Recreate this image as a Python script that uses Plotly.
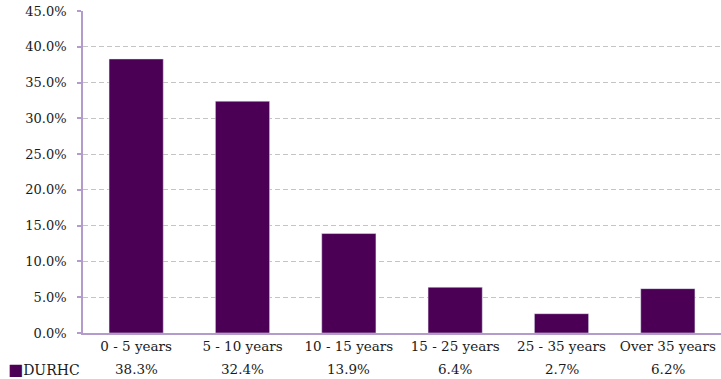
import plotly.graph_objects as go

categories = ["0 - 5 years", "5 - 10 years", "10 - 15 years", "15 - 25 years", "25 - 35 years", "Over 35 years"]
values = [38.3, 32.4, 13.9, 6.4, 2.7, 6.2]
series_name = "DURHC"
y_ticks = [0, 5, 10, 15, 20, 25, 30, 35, 40, 45]

BAR = "#4b0055"
AXIS = "#b39ccc"
FONT = "DejaVu Serif"
TXT = "#1a1a1a"

fig = go.Figure(go.Bar(x=categories, y=values, marker_color=BAR, width=0.51, showlegend=False))

fig.update_layout(
    width=721, height=379,
    margin=dict(l=83, r=0, t=11, b=46),
    paper_bgcolor="white", plot_bgcolor="white",
    font=dict(family=FONT, size=13.5, color=TXT),
    bargap=0.49,
)
fig.update_yaxes(
    range=[0, 45], tickvals=y_ticks, ticktext=[f"{v:.1f}%" for v in y_ticks],
    showgrid=True, gridcolor="#c4c4c4", griddash="5px,3px", gridwidth=1,
    showline=True, linecolor=AXIS, linewidth=1.5,
    ticks="outside", ticklen=4, tickcolor=AXIS, tickwidth=1.5,
    zeroline=False, ticklabelstandoff=8,
    tickfont=dict(family=FONT, size=13, color=TXT),
)
fig.update_xaxes(
    showline=True, linecolor=AXIS, linewidth=1.5, ticks="",
    tickfont=dict(family=FONT, size=13.5, color=TXT),
)

for c, v in zip(categories, values):
    fig.add_annotation(x=c, y=-0.113, xref="x", yref="paper", text=f"{v:.1f}%",
                       showarrow=False, font=dict(family=FONT, size=13.5, color=TXT),
                       xanchor="center", yanchor="middle")

fig.add_annotation(x=-0.121, y=-0.113, xref="paper", yref="paper",
                   text=f'<span style="color:{BAR};font-size:16px">■</span>{series_name}',
                   showarrow=False, font=dict(family=FONT, size=14, color=TXT),
                   xanchor="left", yanchor="middle")

fig.write_html("out.html")
